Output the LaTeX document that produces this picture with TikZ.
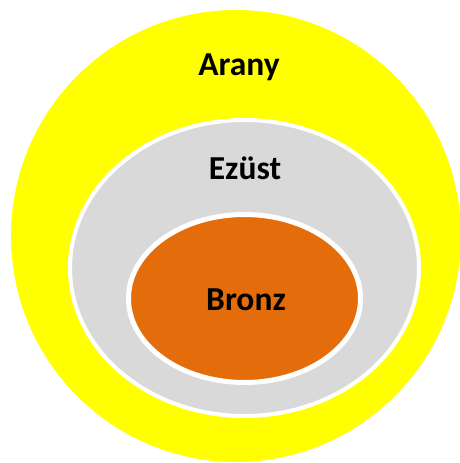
\documentclass[tikz,border=0pt]{standalone}
\usepackage{fontspec}
\setmainfont{Carlito}
\usetikzlibrary{shapes.geometric}
\definecolor{gold}{HTML}{FFFF00}
\definecolor{silver}{HTML}{D9D9D9}
\definecolor{bronze}{HTML}{E46C0A}
\begin{document}
\begin{tikzpicture}
[
x=1pt, y=-1pt,
level/.style={ellipse, inner sep=0pt, outer sep=0pt},
rim/.style={draw=white, line width=#1},
tag/.style={font=\fontsize{33.5}{38}\selectfont\bfseries, text=black},
]
\useasboundingbox (0,0) rectangle (460,463);
%
\node [level, fill=gold, minimum width=450pt, minimum height=452pt]  (G)  at (236,236)  {};
\node [level, fill=silver, rim=4pt, minimum width=349pt, minimum height=296pt]  (S)  at (244.5,268)  {};
\node [level, fill=bronze, rim=5pt, minimum width=232pt, minimum height=168pt]  (B)  at (244.5,298.5)  {};
%
\node [tag]  (Gt)  at (239,67)   {Arany};
\node [tag]  (St)  at (245,168)  {Ezüst};
\node [tag]  (Bt)  at (246,300)  {Bronz};
%
\end{tikzpicture}
\end{document}
